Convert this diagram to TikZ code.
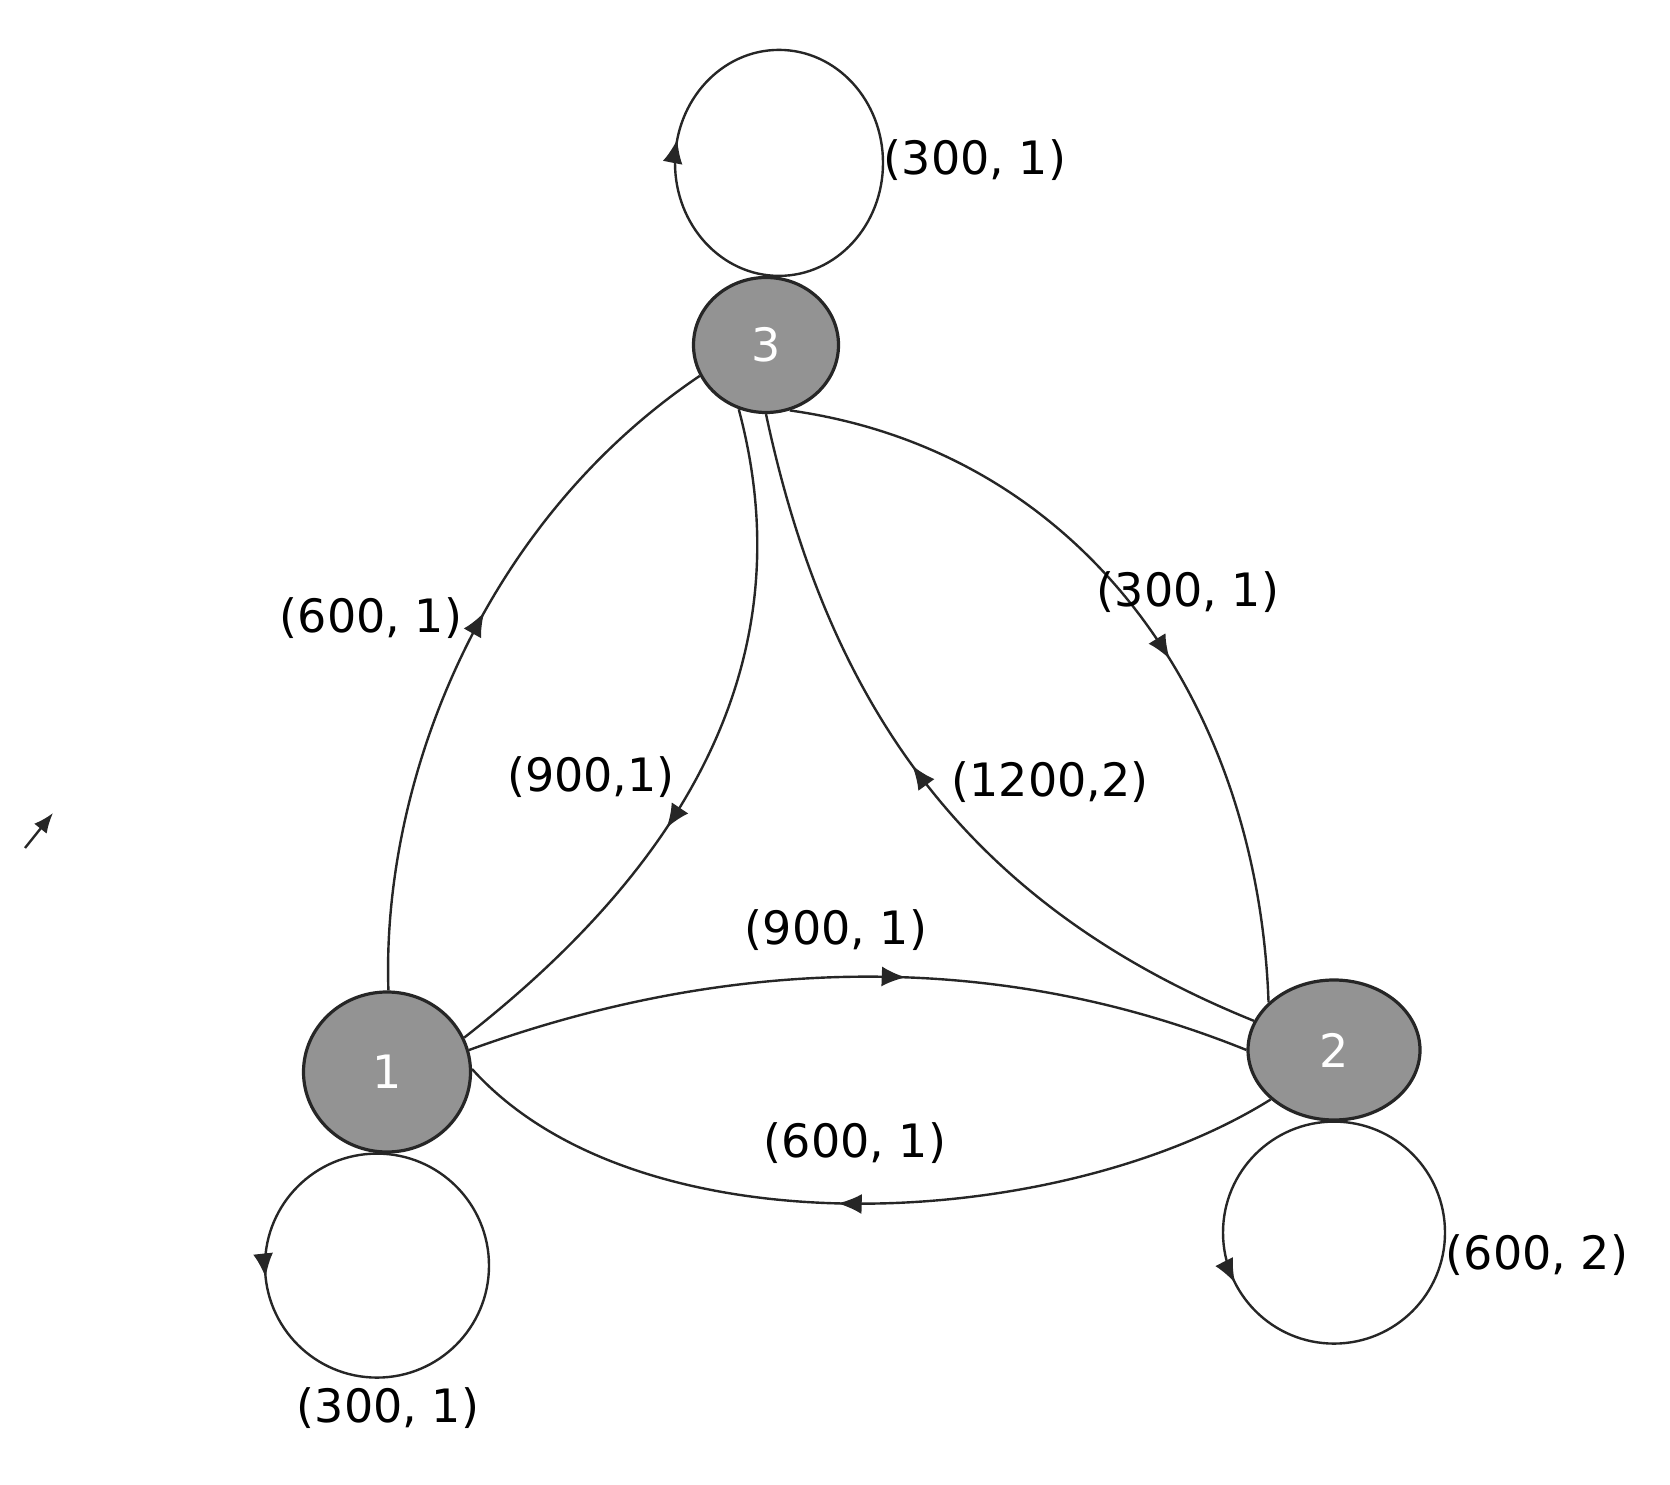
\documentclass[tikz,border=0pt]{standalone}
\usepackage{fontspec}
\setmainfont{DejaVu Sans}
\usetikzlibrary{shapes.geometric,arrows.meta,decorations.markings}
\definecolor{nodegray}{RGB}{147,147,147}
\begin{document}
\begin{tikzpicture}[x=0.5pt,y=0.5pt,
  state/.style={ellipse,draw=black!85,line width=1.6pt,fill=nodegray,text=white,font=\fontsize{23}{27}\selectfont,inner sep=0pt},
  lbl/.style={font=\fontsize{23}{27}\selectfont,inner sep=0pt},
  edge/.style={line width=1.2pt,draw=black!85},
  midarrow/.style={postaction={decorate},decoration={markings,mark=at position #1 with {\arrow{Latex[length=12pt,width=10pt]}}}},
]
\useasboundingbox (0,0) rectangle (1670,1484);
% states
\node[state,minimum width=83.5pt,minimum height=80pt] (n1) at (387,412) {1};
\node[state,minimum width=86pt,minimum height=70pt] (n2) at (1334,434) {2};
\node[state,minimum width=72.5pt,minimum height=67.5pt] (n3) at (766,1139) {3};
% self loops
\draw[edge,midarrow=0.285] ([xshift=6.5pt]n3.north) arc[start angle=-90,end angle=-450,x radius=52pt,y radius=56.5pt];
\draw[edge,midarrow=0.267] ([xshift=-5pt]n1.south) arc[start angle=90,end angle=450,radius=56pt];
\draw[edge,midarrow=0.325] (n2.south) arc[start angle=90,end angle=450,radius=55.5pt];
% edges
\draw[edge,midarrow=0.55] (n1.89) to[out=92,in=214,out looseness=0.75,in looseness=1.0] (n3.205);
\draw[edge,midarrow=0.6] (n3.247) to[out=-75,in=38] (n1.24);
\draw[edge,midarrow=0.56] (n1.15) to[out=20,in=158,looseness=0.9] (n2.180);
\draw[edge,midarrow=0.53] (n2.218) to[out=212,in=-48,looseness=0.8] (n1.2);
\draw[edge,midarrow=0.53] (n2.160) to[out=158,in=-78] (n3.270);
\draw[edge,midarrow=0.565] (n3.290) to[out=-8,in=92] (n2.144);
% stray arrow
\coordinate (sa) at (25,636);
\coordinate (sb) at (53,671);
\draw[edge,-{Latex[length=10pt,width=8pt]}] (sa) -- (sb);
% labels
\node[lbl] (L3) at (975,1324) {(300, 1)};
\node[lbl] (L13) at (371,866) {(600, 1)};
\node[lbl] (L31) at (591,707) {(900,1)};
\node[lbl] (L32) at (1050,702) {(1200,2)};
\node[lbl] (L23) at (1188,892) {(300, 1)};
\node[lbl] (L12) at (836,554) {(900, 1)};
\node[lbl] (L21) at (855,341) {(600, 1)};
\node[lbl] (L1) at (388,76) {(300, 1)};
\node[lbl] (L2) at (1537,229) {(600, 2)};
\end{tikzpicture}
\end{document}
